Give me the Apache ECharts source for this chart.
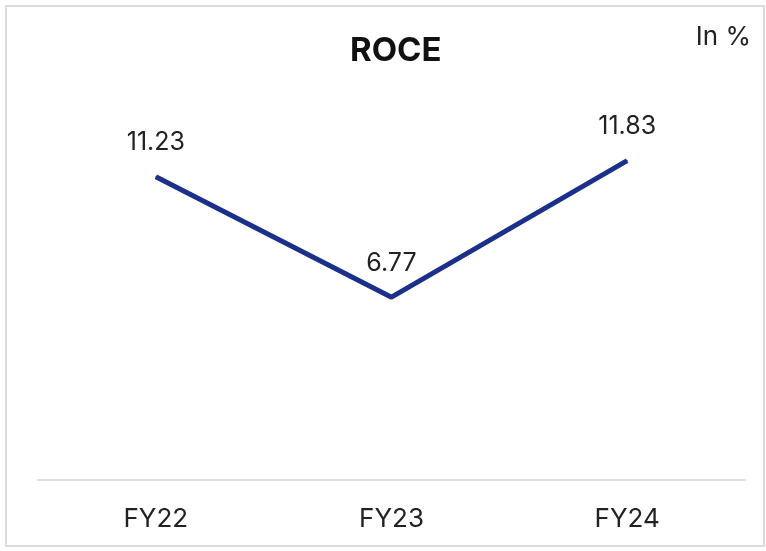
<!DOCTYPE html>
<html lang="en">
<head>
    <meta charset="UTF-8">
    <title>ROCE</title>
    <script type="text/javascript" src="https://cdn.jsdelivr.net/npm/echarts@6/dist/echarts.min.js"></script>
    <style>
        body{
            padding: 0px;
            margin: 0px;
            background-color: #ffffff;
        }
        #chart{
            width: 766px;
            height: 551px;
        }
    </style>
</head>
<body>
    <div id="chart"></div>
    <script>
    var years = ['FY22', 'FY23', 'FY24'];
    var roce = [11.23, 6.77, 11.83];

    var chart = echarts.init(document.getElementById('chart'), null, {renderer: 'canvas'});
    chart.setOption({
        backgroundColor: '#ffffff',
        animation: false,
        title: {
            text: 'ROCE',
            left: 345,
            top: 30,
            textStyle: {fontFamily: 'Inter', fontSize: 33, fontWeight: 'bold', color: '#111111'}
        },
        graphic: [
            {
                type: 'rect',
                shape: {x: 6, y: 6, width: 758, height: 540},
                style: {fill: 'none', stroke: '#dcdcdc', lineWidth: 2}
            },
            {
                type: 'text',
                right: 15,
                top: 24,
                style: {text: 'In %', fontFamily: 'Inter', fontSize: 26, fill: '#222222'}
            }
        ],
        grid: {left: 38, right: 21, top: 102, bottom: 71},
        xAxis: {
            type: 'category',
            data: years,
            axisLine: {lineStyle: {color: '#dddddd', width: 2}},
            axisTick: {show: false},
            axisLabel: {margin: 26, fontFamily: 'Inter', fontSize: 26, color: '#222222'}
        },
        yAxis: {
            type: 'value',
            min: 0,
            max: 14,
            show: false,
            splitLine: {show: false}
        },
        series: [{
            type: 'line',
            data: roce,
            showSymbol: true,
            symbol: 'circle',
            symbolSize: 1,
            itemStyle: {color: '#1b2f8c'},
            lineStyle: {color: '#1b2f8c', width: 5},
            label: {
                show: true,
                position: 'top',
                distance: 21,
                fontFamily: 'Inter',
                fontSize: 25,
                color: '#222222'
            }
        }]
    });
    </script>
</body>
</html>
